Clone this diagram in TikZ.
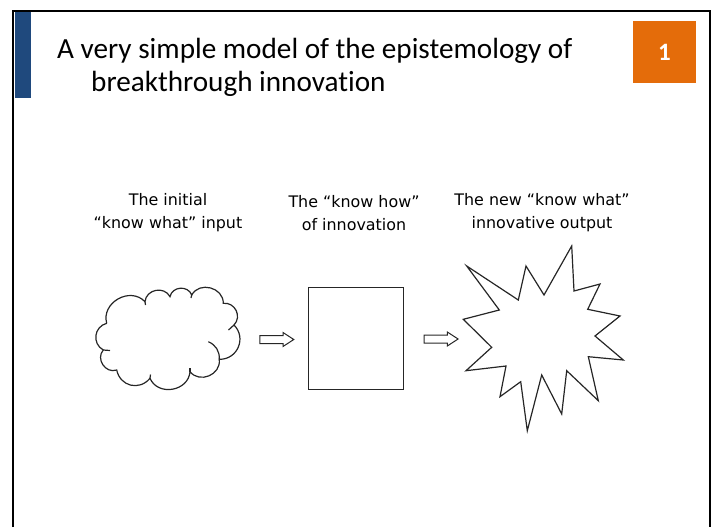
\documentclass[tikz,border=0pt]{standalone}
\usepackage{fontspec}
\setmainfont{Carlito}[Ligatures=NoCommon]
\newfontfamily\labelfont{DejaVu Sans}
\usetikzlibrary{shapes.arrows}

\definecolor{barblue}{HTML}{1F497D}
\definecolor{badgeorange}{HTML}{E46C0A}

\tikzset{
    stagelabel/.style={align=center, inner sep=0pt, font=\labelfont\fontsize{15.9}{22.8}\selectfont},
    outline/.style={line width=1.2pt, line join=miter, draw=black!85},
    puff/.style={bend left=#1, looseness=1.25},
    blockarrow/.style={single arrow, draw=black!85, line width=1pt, inner sep=3.5pt,
        minimum height=34pt, single arrow head extend=3pt, single arrow tip angle=66},
}

\begin{document}
\begin{tikzpicture}[x=1pt,y=-1pt]
            \useasboundingbox (0,0) rectangle (714,527);

            \draw[line width=2pt] (13,527)--(13,11)--(710,11)--(710,527);
            \fill[barblue] (15,12) rectangle (30.5,98);

            \node[anchor=base west, inner sep=0pt, font=\fontsize{29.2}{33}\selectfont] (title-a) at (57,58.3) {A very simple model of the epistemology of};
            \node[anchor=base west, inner sep=0pt, font=\fontsize{29.2}{33}\selectfont] (title-b) at (91,91) {breakthrough innovation};
            \node[fill=badgeorange, minimum width=63pt, minimum height=62pt, inner sep=0pt, text=white, font=\bfseries\fontsize{25}{25}\selectfont] (badge) at (664.5,52) {1};

            \node[stagelabel] (input-label) at (168,213) {The initial\\“know what” input};
            \node[stagelabel] (howto-label) at (354,213) {The “know how”\\of innovation};
            \node[stagelabel] (output-label) at (542,213) {The new “know what”\\innovative output};

            \coordinate (c1) at (106.7,323.3);
            \coordinate (c2) at (145,301.7);
            \coordinate (c3) at (170,296.7);
            \coordinate (c4) at (191.7,295);
            \coordinate (c5) at (223.3,303.3);
            \coordinate (c6) at (234,325);
            \coordinate (c7) at (219.3,359.3);
            \coordinate (c8) at (190,371.7);
            \coordinate (c9) at (150,378.3);
            \coordinate (c10) at (116.7,370);
            \coordinate (c11) at (103.3,350);

            \draw[outline] (c1) to[puff=76] (c2) to[puff=74] (c3) to[puff=74] (c4)
                to[puff=76] (c5) to[puff=70] (c6) to[puff=68] (c7)
                to[puff=74] (c8) to[puff=76] (c9) to[puff=64] (c10)
                to[puff=76] (c11) to[puff=68] (c1);
            \draw[outline] (c7) to[bend right=35] (208.3,341.7);
            \draw[outline] (c6)--(228.5,330);
            \draw[outline] (c11)--(110,350.5);
            \draw[outline] (c9)--(150.5,374.5);
            \draw[outline] (c8)--(190,368);
            \draw[outline] (c2)--(145.5,305);
            \draw[outline] (c4)--(191,298);

            \node[outline, draw, minimum width=95pt, minimum height=102pt, inner sep=0pt] (howto) at (355.8,338.3) {};

            \coordinate (burst) at (545,340);
            \draw[outline] (466.7,266)--(518.3,300)--(526,266)--(544,295)--(571.7,246)--(574,291)
                --(600,284)--(587.7,309.3)--(620,316)--(595,336)--(623.3,360)--(588.3,356.7)
                --(598.3,400.7)--(566.7,370.7)--(561.7,414)--(541.7,375)--(527.3,430.7)--(520.7,381.7)
                --(500,396.7)--(506,366)--(466,370.7)--(491.7,347.3)--(463.3,319.3)--(499.3,310)--cycle;

            \node[blockarrow] (arrow-in) at (273.7,339.5) {};
            \node[blockarrow] (arrow-out) at (438,339) {};
        \end{tikzpicture}
\end{document}
